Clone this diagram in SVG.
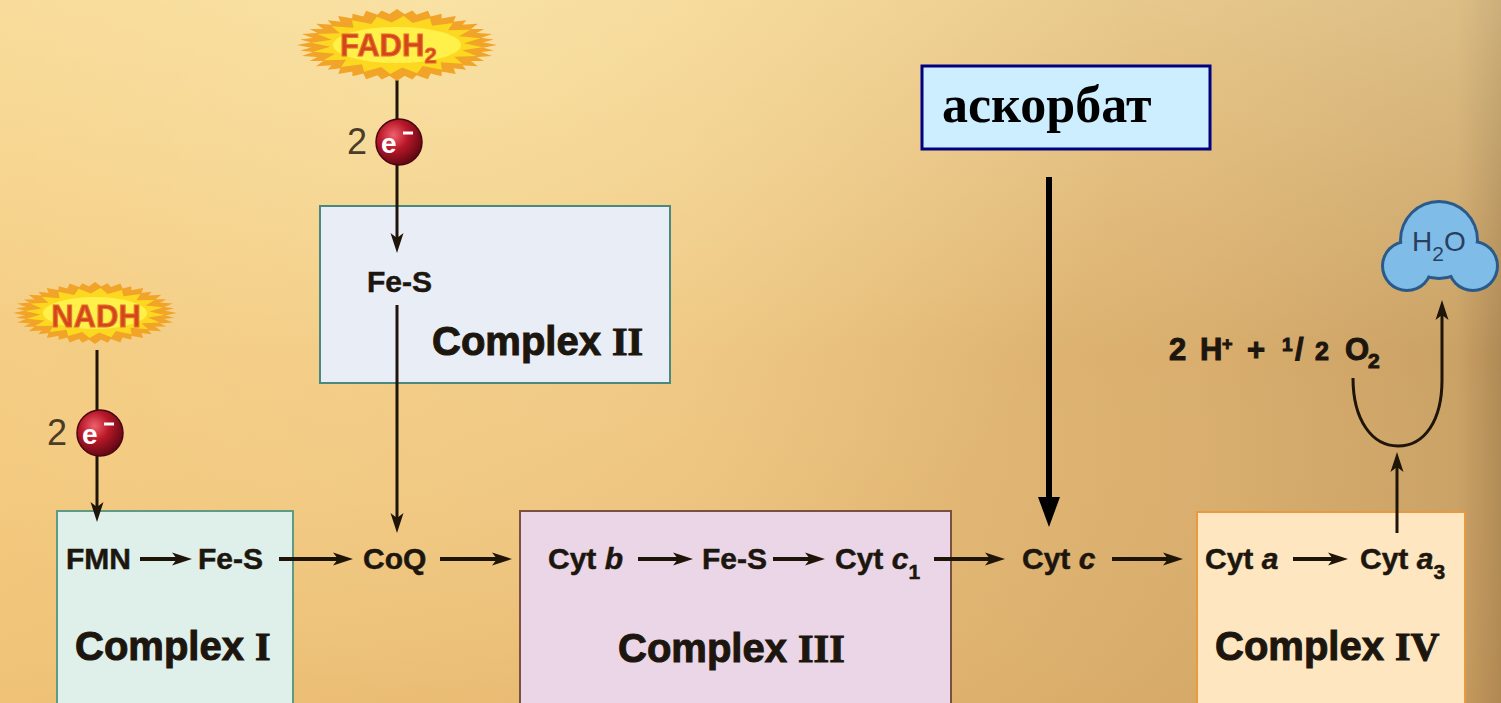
<svg xmlns="http://www.w3.org/2000/svg" xmlns:xlink="http://www.w3.org/1999/xlink" width="1501" height="703" viewBox="0 0 1501 703">
  <style>
    .lbl { font-family: "Liberation Sans", Arial, sans-serif; font-weight: bold; fill: #1c160e; }
    .row { font-size: 30px; stroke: #1c160e; stroke-width: 0.5; }
    .cx { font-size: 40px; stroke: #1c160e; stroke-width: 1; }
    .num { font-family: "Liberation Serif", "Times New Roman", serif; font-weight: bold; }
    .two { font-family: "Liberation Sans", Arial, sans-serif; font-size: 36px; fill: #4a3c26; }
    .e { font-family: "Liberation Sans", Arial, sans-serif; font-weight: bold; font-size: 28px; fill: #ffffff; }
    .emin { stroke: #ffffff; stroke-width: 3; }
    .burst-txt { font-family: "Liberation Sans", Arial, sans-serif; font-weight: bold; font-size: 31px; fill: #d2461a; stroke: #e8702a; stroke-width: 1; }
    .box { stroke-width: 2; }
    .arr { fill: none; stroke: #1e1508; stroke-width: 4; }
    .arr-thin { fill: none; stroke: #1e1508; stroke-width: 3; }
  </style>
  <defs>
    <linearGradient id="bg" x1="0" y1="0" x2="1" y2="0">
      <stop offset="0" stop-color="#f4c97e"/>
      <stop offset="0.45" stop-color="#ecc07a"/>
      <stop offset="0.8" stop-color="#d9ae6e"/>
      <stop offset="0.97" stop-color="#cba266"/>
      <stop offset="1" stop-color="#b08a55"/>
    </linearGradient>
    <linearGradient id="shade" x1="0" y1="0" x2="0" y2="1">
      <stop offset="0" stop-color="#fff4c0" stop-opacity="0.35"/>
      <stop offset="0.5" stop-color="#fff4c0" stop-opacity="0"/>
      <stop offset="1" stop-color="#b07020" stop-opacity="0.08"/>
    </linearGradient>
    <radialGradient id="glow" cx="450" cy="0" r="700" gradientUnits="userSpaceOnUse">
      <stop offset="0" stop-color="#fff2b8" stop-opacity="0.45"/>
      <stop offset="1" stop-color="#fff2b8" stop-opacity="0"/>
    </radialGradient>
    <radialGradient id="ball" cx="0.38" cy="0.35" r="0.7">
      <stop offset="0" stop-color="#f06070"/>
      <stop offset="0.45" stop-color="#b81828"/>
      <stop offset="1" stop-color="#5a0612"/>
    </radialGradient>
    <!-- 20-point star on a unit-100 circle -->
    <path id="star" d="M100,0 L77,12.2 L95.1,30.9 L69.5,35.4 L80.9,58.8 L55.2,55.2 L58.8,80.9 L35.4,69.5 L30.9,95.1 L12.2,77 L0,100 L-12.2,77 L-30.9,95.1 L-35.4,69.5 L-58.8,80.9 L-55.2,55.2 L-80.9,58.8 L-69.5,35.4 L-95.1,30.9 L-77,12.2 L-100,0 L-77,-12.2 L-95.1,-30.9 L-69.5,-35.4 L-80.9,-58.8 L-55.2,-55.2 L-58.8,-80.9 L-35.4,-69.5 L-30.9,-95.1 L-12.2,-77 L0,-100 L12.2,-77 L30.9,-95.1 L35.4,-69.5 L58.8,-80.9 L55.2,-55.2 L80.9,-58.8 L69.5,-35.4 L95.1,-30.9 L77,-12.2 Z"/>
    <marker id="ah" viewBox="0 0 20 14" refX="8" refY="7" markerWidth="20" markerHeight="14" orient="auto" markerUnits="userSpaceOnUse">
      <path d="M0,0.5 L20,7 L0,13.5 L5,7 Z" fill="#1e1508"/>
    </marker>
    <marker id="ahBig" viewBox="0 0 30 22" refX="10" refY="11" markerWidth="30" markerHeight="22" orient="auto" markerUnits="userSpaceOnUse">
      <path d="M0,0 L30,11 L0,22 Z" fill="#000000"/>
    </marker>
  </defs>

  <!-- background -->
  <rect width="1501" height="703" fill="url(#bg)"/>
  <rect width="1501" height="703" fill="url(#shade)"/>
  <rect width="1501" height="703" fill="url(#glow)"/>

  <!-- complexes -->
  <g id="complex-1">
    <rect class="box" x="57" y="511" width="236" height="200" fill="#def0e9" stroke="#5e9a84"/>
    <text class="lbl row" x="66" y="569">FMN</text>
    <text class="lbl row" x="198" y="569">Fe-S</text>
    <text class="lbl cx" x="75" y="660">Complex <tspan class="num">I</tspan></text>
  </g>

  <g id="complex-2">
    <rect class="box" x="320" y="206" width="350" height="177" fill="#e9eef6" stroke="#4a8880"/>
    <text class="lbl row" x="367" y="292" font-size="28">Fe-S</text>
    <text class="lbl cx" x="432" y="355">Complex <tspan class="num">II</tspan></text>
  </g>

  <g id="coq">
    <text class="lbl row" x="363" y="569">CoQ</text>
  </g>

  <g id="complex-3">
    <rect class="box" x="520" y="511" width="431" height="200" fill="#ead6e6" stroke="#7a5040"/>
    <text class="lbl row" x="548" y="569">Cyt <tspan font-style="italic">b</tspan></text>
    <text class="lbl row" x="702" y="569">Fe-S</text>
    <text class="lbl row" x="835" y="569">Cyt <tspan font-style="italic">c</tspan><tspan font-size="21" dy="10">1</tspan></text>
    <text class="lbl cx" x="618" y="662">Complex <tspan class="num">III</tspan></text>
  </g>

  <g id="cyt-c">
    <text class="lbl row" x="1022" y="569">Cyt <tspan font-style="italic">c</tspan></text>
  </g>

  <g id="complex-4">
    <rect class="box" x="1197" y="512" width="268" height="200" fill="#fde6c0" stroke="#e89a40"/>
    <text class="lbl row" x="1205" y="569">Cyt <tspan font-style="italic">a</tspan></text>
    <text class="lbl row" x="1360" y="569">Cyt <tspan font-style="italic">a</tspan><tspan font-size="21" dy="10">3</tspan></text>
    <text class="lbl cx" x="1215" y="660">Complex <tspan class="num">IV</tspan></text>
  </g>

  <!-- connectors -->
  <g id="connectors">
    <line class="arr-thin" x1="97" y1="350" x2="97" y2="510" marker-end="url(#ah)"/>
    <line class="arr-thin" x1="397" y1="80" x2="397" y2="241" marker-end="url(#ah)"/>
    <line class="arr-thin" x1="397" y1="305" x2="397" y2="521" marker-end="url(#ah)"/>
    <line class="arr" x1="140" y1="559" x2="180" y2="559" marker-end="url(#ah)"/>
    <line class="arr" x1="279" y1="559" x2="341" y2="559" marker-end="url(#ah)"/>
    <line class="arr" x1="440" y1="559" x2="500" y2="559" marker-end="url(#ah)"/>
    <line class="arr" x1="638" y1="559" x2="681" y2="559" marker-end="url(#ah)"/>
    <line class="arr" x1="773" y1="559" x2="813" y2="559" marker-end="url(#ah)"/>
    <line class="arr" x1="934" y1="559" x2="993" y2="559" marker-end="url(#ah)"/>
    <line class="arr" x1="1112" y1="559" x2="1171" y2="559" marker-end="url(#ah)"/>
    <line class="arr" x1="1293" y1="559" x2="1336" y2="559" marker-end="url(#ah)"/>
    <line class="arr-thin" x1="1397" y1="533" x2="1397" y2="464" marker-end="url(#ah)"/>
    <path class="arr-thin" d="M1353,378 C1353,420 1372,446 1398,446 C1425,446 1442,420 1442,380 L1442,312" marker-end="url(#ah)"/>
    <line x1="1049" y1="177" x2="1049" y2="507" stroke="#000000" stroke-width="6" marker-end="url(#ahBig)"/>
  </g>

  <!-- NADH -->
  <g id="nadh">
    <use xlink:href="#star" transform="translate(95,313) scale(0.82,0.31)" fill="#f2a428"/>
    <use xlink:href="#star" transform="translate(95,313) scale(0.8,0.3) rotate(9)" fill="#f2a428"/>
    <use xlink:href="#star" transform="translate(95,313) scale(0.7,0.25) rotate(4.5)" fill="#fcd820"/>
    <ellipse cx="95" cy="313" rx="52" ry="16" fill="#fff04a"/>
    <text class="burst-txt" x="96" y="327" text-anchor="middle">NADH</text>
  </g>

  <!-- FADH2 -->
  <g id="fadh2">
    <use xlink:href="#star" transform="translate(397,45) scale(1.0,0.36)" fill="#f2a428"/>
    <use xlink:href="#star" transform="translate(397,45) scale(0.98,0.35) rotate(9)" fill="#f2a428"/>
    <use xlink:href="#star" transform="translate(397,45) scale(0.86,0.29) rotate(4.5)" fill="#fcd820"/>
    <ellipse cx="397" cy="45" rx="64" ry="18" fill="#fff04a"/>
    <text class="burst-txt" x="340" y="56">FADH<tspan font-size="22" dy="7">2</tspan></text>
  </g>

  <!-- electron pairs -->
  <g id="electrons-1">
    <text class="two" x="47" y="445">2</text>
    <circle cx="100" cy="433" r="23" fill="url(#ball)" stroke="#4a0610" stroke-width="1.5"/>
    <text class="e" x="82" y="444">e</text>
    <line class="emin" x1="104" y1="424" x2="114" y2="424"/>
  </g>
  <g id="electrons-2">
    <text class="two" x="347" y="154">2</text>
    <circle cx="399" cy="142" r="23" fill="url(#ball)" stroke="#4a0610" stroke-width="1.5"/>
    <text class="e" x="381" y="153">e</text>
    <line class="emin" x1="403" y1="133" x2="413" y2="133"/>
  </g>

  <!-- oxygen reduction -->
  <g id="oxygen">
    <text class="lbl" font-size="31" y="360" stroke="#1c160e" stroke-width="1"><tspan x="1169">2</tspan><tspan x="1200">H</tspan><tspan x="1222" y="350" font-size="18">+</tspan><tspan x="1247" y="360">+</tspan><tspan x="1282" y="351" font-size="19">1</tspan><tspan x="1295" y="360">/</tspan><tspan x="1315" font-size="25">2</tspan><tspan x="1345">O</tspan><tspan x="1368" y="368" font-size="21">2</tspan></text>
  </g>

  <g id="water">
    <g fill="#2a5a8a">
      <circle cx="1439" cy="240" r="40"/>
      <circle cx="1407" cy="266" r="26"/>
      <circle cx="1473" cy="266" r="26"/>
    </g>
    <g fill="#80bce8">
      <circle cx="1439" cy="240" r="37"/>
      <circle cx="1407" cy="266" r="23"/>
      <circle cx="1473" cy="266" r="23"/>
    </g>
    <text x="1412" y="251" font-family="Liberation Sans, Arial, sans-serif" font-size="28" fill="#28405e">H<tspan font-size="21" dy="10">2</tspan><tspan dy="-10">O</tspan></text>
  </g>

  <!-- ascorbate donor -->
  <g id="ascorbate">
    <rect x="922" y="66" width="288" height="83" fill="#cceeff" stroke="#000080" stroke-width="3"/>
    <text x="942" y="122" font-family="Liberation Serif, Times New Roman, serif" font-weight="bold" font-size="52" fill="#000000">аскорбат</text>
  </g>
</svg>
